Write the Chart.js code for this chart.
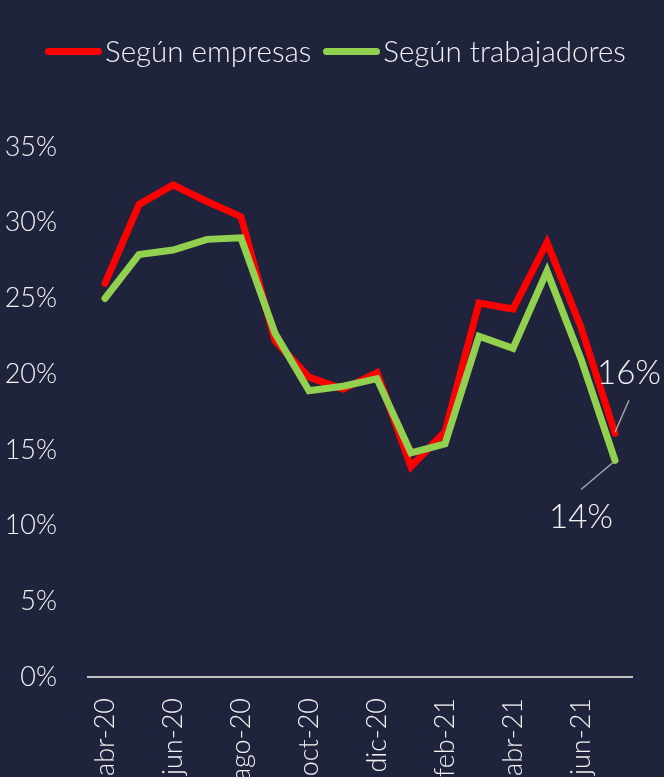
<!DOCTYPE html>
<html lang="es">
<head>
<meta charset="utf-8">
<title>Según empresas / Según trabajadores</title>
<script src="https://cdn.jsdelivr.net/npm/chart.js@4.4.1/dist/chart.umd.min.js"></script>
<style>
    html, body {
        margin: 0;
        padding: 0;
        background: #1f233c;
    }
    .wrap {
        position: relative;
        width: 664px;
        height: 777px;
        overflow: hidden;
    }
    .legend {
        position: absolute;
        left: 45px;
        top: 33px;
        display: flex;
        align-items: center;
        font-family: Lato, sans-serif;
        font-weight: 300;
        font-size: 29.5px;
        color: #f2f2f2;
        white-space: nowrap;
        line-height: 36px;
    }
    .legend .item {
        display: flex;
        align-items: center;
        margin-right: 12px;
    }
    .legend .swatch {
        display: inline-block;
        width: 57px;
        height: 7px;
        border-radius: 4px;
        margin-right: 3px;
    }
</style>
</head>
<body>
<div class="wrap">
    <div class="legend" id="legend"></div>
    <canvas id="chart"></canvas>
</div>
<script>
const months = ['abr-20', 'may-20', 'jun-20', 'jul-20', 'ago-20', 'sep-20', 'oct-20', 'nov-20',
    'dic-20', 'ene-21', 'feb-21', 'mar-21', 'abr-21', 'may-21', 'jun-21', 'jul-21'];
const segunEmpresas = [26.0, 31.2, 32.5, 31.4, 30.4, 22.2, 19.8, 19.0, 20.1, 13.9, 16.2, 24.7, 24.3, 28.7, 23.1, 16.1];
const segunTrabajadores = [25.0, 27.9, 28.2, 28.9, 29.0, 22.7, 18.9, 19.2, 19.7, 14.8, 15.4, 22.5, 21.7, 26.8, 21.0, 14.3];
const yTicks = [0, 5, 10, 15, 20, 25, 30, 35];

const textColor = '#f2f2f2';
const fontFamily = 'Lato, sans-serif';

const series = [
    { label: 'Según empresas', data: segunEmpresas, color: '#ff0000', order: 1 },
    { label: 'Según trabajadores', data: segunTrabajadores, color: '#92d050', order: 0 },
];

// legend in html so the gaps match the original
const legendEl = document.getElementById('legend');
series.forEach((s) => {
    const item = document.createElement('span');
    item.className = 'item';
    const sw = document.createElement('span');
    sw.className = 'swatch';
    sw.style.background = s.color;
    const txt = document.createElement('span');
    txt.textContent = s.label;
    item.appendChild(sw);
    item.appendChild(txt);
    legendEl.appendChild(item);
});

// end-of-line labels with leader lines
const endLabels = {
    id: 'endLabels',
    afterDatasetsDraw(chart) {
        const { ctx } = chart;
        const marks = [
            { ds: 0, dx1: 0, dy1: -1, dx2: 14, dy2: -33, tx: 14, ty: -60 },
            { ds: 1, dx1: -2, dy1: 2, dx2: -34, dy2: 29, tx: -34, ty: 57 },
        ];
        ctx.save();
        marks.forEach((m) => {
            const data = chart.data.datasets[m.ds].data;
            const pt = chart.getDatasetMeta(m.ds).data[data.length - 1];
            ctx.strokeStyle = '#a6a6a6';
            ctx.lineWidth = 1.5;
            ctx.beginPath();
            ctx.moveTo(pt.x + m.dx1, pt.y + m.dy1);
            ctx.lineTo(pt.x + m.dx2, pt.y + m.dy2);
            ctx.stroke();
            ctx.fillStyle = textColor;
            ctx.font = `300 33px ${fontFamily}`;
            ctx.textAlign = 'center';
            ctx.textBaseline = 'middle';
            ctx.fillText(Math.round(data[data.length - 1]) + '%', pt.x + m.tx, pt.y + m.ty);
        });
        ctx.restore();
    },
};

new Chart(document.getElementById('chart'), {
    type: 'line',
    data: {
        labels: months,
        datasets: series.map((s) => ({
            label: s.label,
            data: s.data,
            borderColor: s.color,
            backgroundColor: s.color,
            borderWidth: 7,
            borderCapStyle: 'round',
            borderJoinStyle: 'miter',
            pointRadius: 0,
            tension: 0,
            order: s.order,
        })),
    },
    options: {
        responsive: true,
        maintainAspectRatio: false,
        animation: false,
        layout: { padding: { top: 147, right: 32, left: 0, bottom: 0 } },
        plugins: {
            legend: { display: false },
            tooltip: { enabled: false },
        },
        scales: {
            x: {
                offset: true,
                grid: { display: false, drawTicks: false },
                border: { display: true, color: '#c0c0c0', width: 2 },
                ticks: {
                    autoSkip: false,
                    minRotation: 90,
                    maxRotation: 90,
                    padding: 21,
                    color: textColor,
                    font: { family: fontFamily, size: 27, weight: 300 },
                    callback: (value, index) => (index % 2 === 0 ? months[index] : ''),
                },
                afterFit: (scale) => {
                    scale.height = 100;
                    scale.paddingLeft = 0;
                    scale.paddingRight = 0;
                },
            },
            y: {
                min: 0,
                max: 35,
                grid: { display: false, drawTicks: false },
                border: { display: false },
                afterBuildTicks: (scale) => {
                    scale.ticks = yTicks.map((v) => ({ value: v }));
                },
                ticks: {
                    padding: 31,
                    color: textColor,
                    font: { family: fontFamily, size: 27, weight: 300 },
                    callback: (value) => value + '%',
                },
                afterFit: (scale) => {
                    scale.width = 88;
                },
            },
        },
    },
    plugins: [endLabels],
});
</script>
</body>
</html>
